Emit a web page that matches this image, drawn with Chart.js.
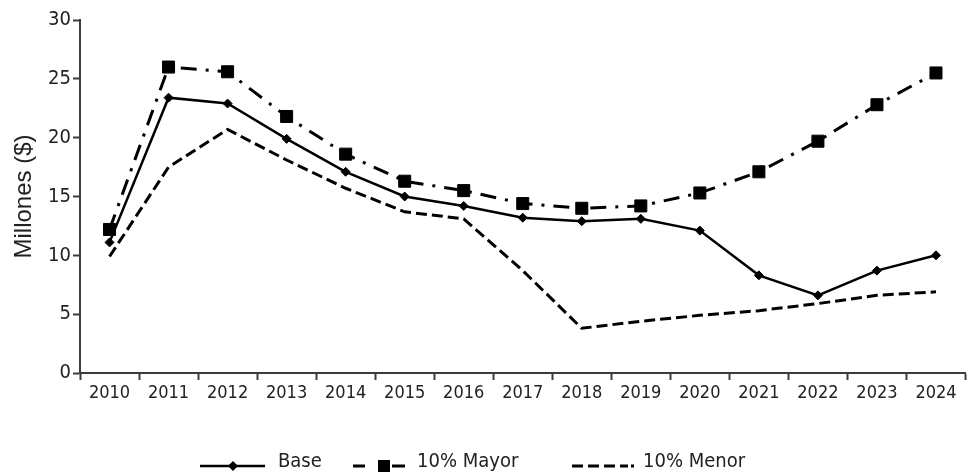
<!DOCTYPE html>
<html>
<head>
<meta charset="utf-8">
<script src="https://cdn.jsdelivr.net/npm/chart.js@4.4.1/dist/chart.umd.min.js"></script>
<style>
  html, body { margin: 0; padding: 0; background: #ffffff; }
  #wrap { width: 975px; height: 472px; }
</style>
</head>
<body>
<div id="wrap"><canvas id="c" width="975" height="472"></canvas></div>
<script>
const years = ["2010","2011","2012","2013","2014","2015","2016","2017","2018","2019","2020","2021","2022","2023","2024"];
const baseValues  = [11.1, 23.4, 22.9, 19.9, 17.1, 15.0, 14.2, 13.2, 12.9, 13.1, 12.1, 8.3, 6.6, 8.7, 10.0];
const mayorValues = [12.2, 26.0, 25.6, 21.8, 18.6, 16.3, 15.5, 14.4, 14.0, 14.2, 15.3, 17.1, 19.7, 22.8, 25.5];
const menorValues = [9.9, 17.5, 20.7, 18.1, 15.7, 13.7, 13.1, 8.7, 3.8, 4.4, 4.9, 5.3, 5.9, 6.6, 6.9];
const seriesLabels = ["Base", "10% Mayor", "10% Menor"];
const yTitle = "Millones ($)";

const TICK_FONT = '"DejaVu Sans Condensed", "DejaVu Sans", sans-serif';
const AXIS_COLOR = '#3c3c3c';
const TEXT_COLOR = '#222222';

// custom legend drawn below the plot
const legendPlugin = {
  id: 'bottomLegend',
  afterDraw(chart) {
    const ctx = chart.ctx;
    const y = 466;
    const ds = chart.data.datasets;
    ctx.save();
    ctx.strokeStyle = '#000';
    ctx.fillStyle = '#000';
    // Base: solid line + diamond
    ctx.lineWidth = 2.5;
    ctx.setLineDash([]);
    ctx.beginPath(); ctx.moveTo(200, y); ctx.lineTo(265, y); ctx.stroke();
    ctx.beginPath();
    ctx.moveTo(233, y - 5); ctx.lineTo(238, y); ctx.lineTo(233, y + 5); ctx.lineTo(228, y);
    ctx.closePath(); ctx.fill();
    // Mayor: dash, square, dash
    ctx.lineWidth = 3;
    ctx.beginPath(); ctx.moveTo(353, y); ctx.lineTo(365, y); ctx.stroke();
    ctx.beginPath(); ctx.moveTo(392, y); ctx.lineTo(405, y); ctx.stroke();
    ctx.fillRect(378, y - 6, 12, 12);
    // Menor: dashed + dot
    ctx.setLineDash([11, 5]);
    ctx.beginPath(); ctx.moveTo(572, y); ctx.lineTo(628, y); ctx.stroke();
    ctx.setLineDash([]);
    ctx.fillRect(631, y - 1.5, 3, 3);
    // texts
    ctx.fillStyle = TEXT_COLOR;
    ctx.font = '20px ' + TICK_FONT;
    ctx.textBaseline = 'middle';
    ctx.textAlign = 'left';
    ctx.fillText(ds[0].label, 278, 462);
    ctx.fillText(ds[1].label, 417, 462);
    ctx.fillText(ds[2].label, 643, 462);
    ctx.restore();
  }
};

new Chart(document.getElementById('c'), {
  type: 'line',
  data: {
    labels: years,
    datasets: [
      {
        label: seriesLabels[0],
        data: baseValues,
        borderColor: '#000',
        backgroundColor: '#000',
        borderWidth: 2.5,
        pointStyle: 'rectRot',
        pointRadius: 4.5,
        pointBorderWidth: 1,
        tension: 0,
        order: 1
      },
      {
        label: seriesLabels[1],
        data: mayorValues,
        borderColor: '#000',
        backgroundColor: '#000',
        borderWidth: 3,
        borderDash: [16, 9, 3, 9],
        pointStyle: 'rect',
        pointRadius: 8.5,
        pointBorderWidth: 1,
        tension: 0,
        order: 2
      },
      {
        label: seriesLabels[2],
        data: menorValues,
        borderColor: '#000',
        backgroundColor: '#000',
        borderWidth: 3,
        borderDash: [11, 5],
        pointRadius: 0,
        tension: 0,
        order: 3
      }
    ]
  },
  options: {
    responsive: false,
    animation: false,
    layout: { padding: { top: 20, right: 2, bottom: 59, left: 0 } },
    plugins: {
      legend: { display: false },
      tooltip: { enabled: false }
    },
    scales: {
      x: {
        offset: true,
        grid: {
          offset: true,
          drawOnChartArea: false,
          drawTicks: true,
          tickLength: 7,
          tickWidth: 2,
          tickColor: AXIS_COLOR
        },
        border: { display: true, color: AXIS_COLOR, width: 2 },
        ticks: {
          color: TEXT_COLOR,
          font: { family: TICK_FONT, size: 18 },
          padding: 3,
          maxRotation: 0,
          autoSkip: false
        },
        afterFit(scale) { scale.height = 40; }
      },
      y: {
        min: 0,
        max: 30,
        ticks: {
          stepSize: 5,
          color: TEXT_COLOR,
          font: { family: TICK_FONT, size: 20 },
          padding: 2
        },
        grid: {
          drawOnChartArea: false,
          drawTicks: true,
          tickLength: 7,
          tickWidth: 2,
          tickColor: AXIS_COLOR
        },
        border: { display: true, color: AXIS_COLOR, width: 2 },
        title: {
          display: true,
          text: yTitle,
          color: TEXT_COLOR,
          font: { family: '"Liberation Sans", Arial, sans-serif', size: 24 },
          padding: { top: 10, bottom: 0 }
        },
        afterFit(scale) { scale.width = 80; }
      }
    }
  },
  plugins: [legendPlugin]
});
</script>
</body>
</html>
